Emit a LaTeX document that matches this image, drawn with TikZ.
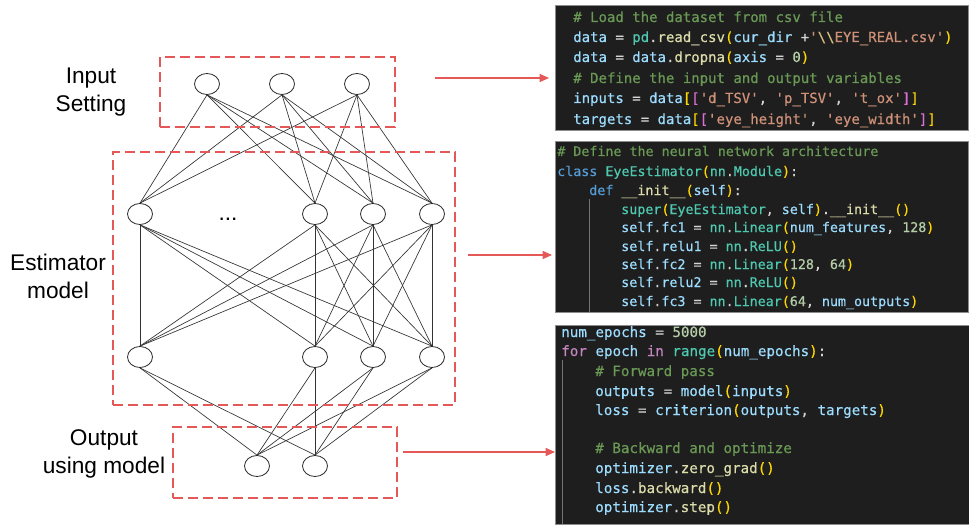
\documentclass[tikz,border=0pt]{standalone}
\usepackage{fontspec}
\setmainfont{Liberation Sans}
\setmonofont[FakeBold=0.5]{DejaVu Sans Mono}
\usetikzlibrary{shapes.geometric,arrows.meta}
\definecolor{redc}{RGB}{228,88,88}
\definecolor{codebg}{RGB}{30,30,30}
\definecolor{cwhite}{HTML}{D4D4D4}
\definecolor{ccom}{HTML}{6A9955}
\definecolor{cvar}{HTML}{9CDCFE}
\definecolor{cfun}{HTML}{DCDCAA}
\definecolor{cstr}{HTML}{CE9178}
\definecolor{cnum}{HTML}{B5CEA8}
\definecolor{ckw}{HTML}{569CD6}
\definecolor{ckp}{HTML}{C586C0}
\definecolor{ccls}{HTML}{4EC9B0}
\definecolor{cbA}{HTML}{FFD700}
\definecolor{cbB}{HTML}{DA70D6}
\definecolor{cesc}{HTML}{D7BA7D}
\newcommand\Ccom[1]{\textcolor{ccom}{#1}}
\newcommand\Cvar[1]{\textcolor{cvar}{#1}}
\newcommand\Cfun[1]{\textcolor{cfun}{#1}}
\newcommand\Cstr[1]{\textcolor{cstr}{#1}}
\newcommand\Cnum[1]{\textcolor{cnum}{#1}}
\newcommand\Ckw[1]{\textcolor{ckw}{#1}}
\newcommand\Ckp[1]{\textcolor{ckp}{#1}}
\newcommand\Ccls[1]{\textcolor{ccls}{#1}}
\newcommand\CbA[1]{\textcolor{cbA}{#1}}
\newcommand\CbB[1]{\textcolor{cbB}{#1}}
\newcommand\Cesc[1]{\textcolor{cesc}{#1}}
\frenchspacing
\begin{document}
\begin{tikzpicture}[x=0.75pt,y=-0.75pt,
  neuron/.style={ellipse,draw=black!85,line width=0.6pt,minimum width=18.75pt,minimum height=15.75pt,inner sep=0pt,fill=white},
  wire/.style={line width=0.5pt,black!80},
  dbox/.style={rectangle,draw=redc,line width=1.5pt,dash pattern=on 7.5pt off 3.75pt,inner sep=0pt},
  codebox/.style={rectangle,fill=codebg,draw=black!45,line width=0.5pt,inner sep=0pt},
  guide/.style={line width=0.5pt,black!55},
  arr/.style={draw=redc,line width=1.1pt,-{Triangle[length=7pt,width=6pt]}},
  lab/.style={font=\fontsize{17}{21}\selectfont,align=center,inner sep=0pt},
  codeA/.style={anchor=base west,inner sep=0pt,text=cwhite,font=\fontsize{10.5}{12}\selectfont\ttfamily},
  codeB/.style={anchor=base west,inner sep=0pt,text=cwhite,font=\fontsize{10}{12}\selectfont\ttfamily},
  codeC/.style={anchor=base west,inner sep=0pt,text=cwhite,font=\fontsize{10.65}{12}\selectfont\ttfamily}]
\useasboundingbox (0,0) rectangle (969,524);

% ---------- network ----------
\node[neuron] (i1) at (207,84) {};
\node[neuron] (i2) at (282,84) {};
\node[neuron] (i3) at (357,84) {};
\node[neuron] (h1) at (140,214) {};
\node[neuron] (h2) at (315,214) {};
\node[neuron] (h3) at (373,214) {};
\node[neuron] (h4) at (432,214) {};
\node[neuron] (g1) at (140,357) {};
\node[neuron] (g2) at (315,357) {};
\node[neuron] (g3) at (373,357) {};
\node[neuron] (g4) at (432,357) {};
\node[neuron] (o1) at (257,466) {};
\node[neuron] (o2) at (315,466) {};
\node[font=\fontsize{17}{21}\selectfont,inner sep=0pt] (dots) at (228,219) {...};

\foreach \a in {i1,i2,i3}{\foreach \b in {h1,h2,h3,h4}{\draw[wire] (\a.south) -- (\b.north);}}
\foreach \a in {h1,h2,h3,h4}{\foreach \b in {g1,g2,g3,g4}{\draw[wire] (\a.south) -- (\b.north);}}
\foreach \a in {g1,g2,g3,g4}{\foreach \b in {o1,o2}{\draw[wire] (\a.south) -- (\b.north);}}

% ---------- dashed boxes ----------
\node[dbox,minimum width=176.25pt,minimum height=52.5pt] (inbox) at (277.5,92) {};
\node[dbox,minimum width=256.5pt,minimum height=189.75pt] (estbox) at (284,278.5) {};
\node[dbox,minimum width=168pt,minimum height=53.25pt] (outbox) at (285,462.5) {};

% ---------- labels ----------
\node[lab] (lin) at (91,92) {Input\\Setting};
\node[lab] (lest) at (58,276) {Estimator\\model};
\node[lab] (lout) at (104,454) {Output\\using model};

% ---------- code boxes ----------
\node[codebox,minimum width=309.75pt,minimum height=93.75pt] (c1) at (761.5,67.5) {};
\node[codebox,minimum width=309.75pt,minimum height=128.25pt] (c2) at (761.5,226.5) {};
\node[codebox,minimum width=310.5pt,minimum height=149.25pt] (c3) at (762,424.5) {};

% ---------- arrows ----------
\coordinate (a1s) at (435,78);  \coordinate (a1e) at (549,78);
\coordinate (a2s) at (468,255); \coordinate (a2e) at (552,255);
\coordinate (a3s) at (403,452); \coordinate (a3e) at (555,452);
\draw[arr] (a1s) -- (a1e);
\draw[arr] (a2s) -- (a2e);
\draw[arr] (a3s) -- (a3e);

% ---------- code 1 ----------
\node[codeA] (k11) at (573,22) {\Ccom{\# Load the dataset from csv file}};
\node[codeA] (k12) at (573,42) {\Cvar{data} = \Ccls{pd}.\Cfun{read\_csv}\CbA{(}\Cvar{cur\_dir} +\Cstr{'}\Cesc{\textbackslash\textbackslash}\Cstr{EYE\_REAL.csv'}\CbA{)}};
\node[codeA] (k13) at (573,62) {\Cvar{data} = \Cvar{data}.\Cfun{dropna}\CbA{(}\Cvar{axis} = \Cnum{0}\CbA{)}};
\node[codeA] (k14) at (573,83) {\Ccom{\# Define the input and output variables}};
\node[codeA] (k15) at (573,103) {\Cvar{inputs} = \Cvar{data}\CbA{[}\CbB{[}\Cstr{'d\_TSV'}, \Cstr{'p\_TSV'}, \Cstr{'t\_ox'}\CbB{]}\CbA{]}};
\node[codeA] (k16) at (573,124) {\Cvar{targets} = \Cvar{data}\CbA{[}\CbB{[}\Cstr{'eye\_height'}, \Cstr{'eye\_width'}\CbB{]}\CbA{]}};

% ---------- code 2 ----------
\begin{scope}
\clip (c2.north west) rectangle (c2.south east);
\draw[guide] (589,199) -- (589,312);
\node[codeB] (k21) at (557,156) {\Ccom{\# Define the neural network architecture}};
\node[codeB] (k22) at (557,176) {\Ckw{class} \Ccls{EyeEstimator}\CbA{(}\Ccls{nn}.\Ccls{Module}\CbA{)}:};
\node[codeB] (k23) at (589,195) {\Ckw{def} \Cfun{\_\_init\_\_}\CbA{(}\Cvar{self}\CbA{)}:};
\node[codeB] (k24) at (621,214) {\Ccls{super}\CbA{(}\Ccls{EyeEstimator}, \Cvar{self}\CbA{)}.\Cfun{\_\_init\_\_}\CbA{()}};
\node[codeB] (k25) at (621,232) {\Cvar{self}.\Cvar{fc1} = \Ccls{nn}.\Ccls{Linear}\CbA{(}\Cvar{num\_features}, \Cnum{128}\CbA{)}};
\node[codeB] (k26) at (621,251) {\Cvar{self}.\Cvar{relu1} = \Ccls{nn}.\Ccls{ReLU}\CbA{()}};
\node[codeB] (k27) at (621,269) {\Cvar{self}.\Cvar{fc2} = \Ccls{nn}.\Ccls{Linear}\CbA{(}\Cnum{128}, \Cnum{64}\CbA{)}};
\node[codeB] (k28) at (621,287) {\Cvar{self}.\Cvar{relu2} = \Ccls{nn}.\Ccls{ReLU}\CbA{()}};
\node[codeB] (k29) at (621,306) {\Cvar{self}.\Cvar{fc3} = \Ccls{nn}.\Ccls{Linear}\CbA{(}\Cnum{64}, \Cvar{num\_outputs}\CbA{)}};
\end{scope}

% ---------- code 3 ----------
\draw[guide] (562,360) -- (562,524);
\node[codeC] (k31) at (561,337) {\Cvar{num\_epochs} = \Cnum{5000}};
\node[codeC] (k32) at (561,356) {\Ckp{for} \Cvar{epoch} \Ckp{in} \Ccls{range}\CbA{(}\Cvar{num\_epochs}\CbA{)}:};
\node[codeC] (k33) at (595,376) {\Ccom{\# Forward pass}};
\node[codeC] (k34) at (595,396) {\Cvar{outputs} = \Cvar{model}\CbA{(}\Cvar{inputs}\CbA{)}};
\node[codeC] (k35) at (595,415) {\Cvar{loss} = \Cvar{criterion}\CbA{(}\Cvar{outputs}, \Cvar{targets}\CbA{)}};
\node[codeC] (k36) at (595,453) {\Ccom{\# Backward and optimize}};
\node[codeC] (k37) at (595,473) {\Cvar{optimizer}.\Cfun{zero\_grad}\CbA{()}};
\node[codeC] (k38) at (595,493) {\Cvar{loss}.\Cfun{backward}\CbA{()}};
\node[codeC] (k39) at (595,512) {\Cvar{optimizer}.\Cfun{step}\CbA{()}};
\end{tikzpicture}
\end{document}
